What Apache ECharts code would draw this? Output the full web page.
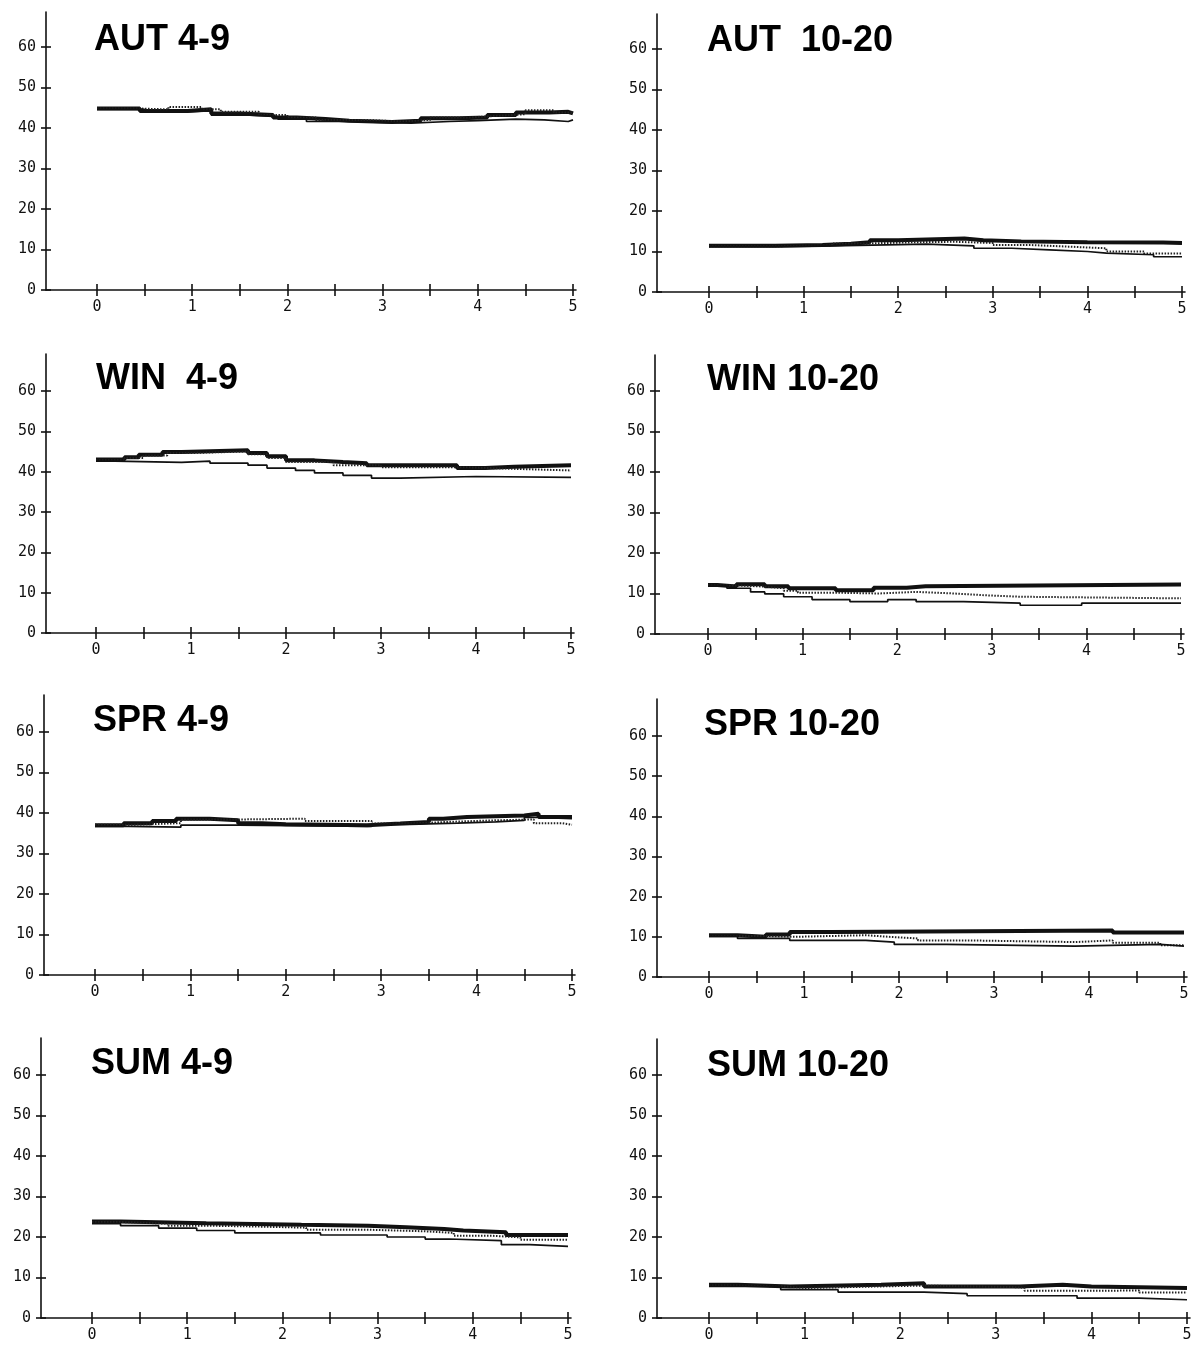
<!DOCTYPE html>
<html>
<head>
<meta charset="utf-8">
<script src="https://cdn.jsdelivr.net/npm/echarts@6/dist/echarts.min.js"></script>
<style>
  html, body { margin: 0; padding: 0; background: #fff; }
  #chart { width: 1198px; height: 1356px; }
</style>
</head>
<body>
<div id="chart"></div>
<script>
// Panel titles (season, size class)
const panelTitles = ['AUT 4-9', 'AUT  10-20', 'WIN  4-9', 'WIN 10-20', 'SPR 4-9', 'SPR 10-20', 'SUM 4-9', 'SUM 10-20'];

// Axis ticks and labels
const yTickValues = [0, 10, 20, 30, 40, 50, 60];
const xLabelValues = [0, 1, 2, 3, 4, 5];
const xTickValues = [0, 0.5, 1, 1.5, 2, 2.5, 3, 3.5, 4, 4.5, 5];

// Step curves: [x where the level changes, level]
const aut49Thick  = [[0,44.8],[0.45,44.2],[0.95,44.6],[1.2,43.6],[1.5,43.2],[1.85,42.6],[2.1,42.2],[2.4,41.8],[2.65,41.5],[3.1,41.8],[3.4,42.4],[3.8,42.6],[4.1,43.2],[4.4,43.8],[4.75,44.0],[4.95,43.6]];
const aut49Dotted = [[0,44.8],[0.45,44.6],[0.75,45.2],[1.1,44.6],[1.3,44.0],[1.7,43.2],[2.0,42.6],[2.3,42.0],[2.8,41.6],[3.2,42.0],[3.5,42.6],[3.9,43.0],[4.2,43.4],[4.5,44.4],[4.8,43.8]];
const aut49Thin   = [[0,44.6],[0.5,44.0],[0.9,44.2],[1.2,43.2],[1.6,42.8],[1.9,42.2],[2.2,41.6],[2.6,41.2],[3.3,41.6],[3.7,41.8],[4.0,42.2],[4.4,42.0],[4.7,41.6],[4.95,42.0]];

const aut1020Thick  = [[0,11.4],[0.7,11.6],[1.2,11.9],[1.5,12.3],[1.7,12.8],[2.0,13.2],[2.7,12.8],[2.9,12.5],[3.3,12.3],[4.0,12.2],[4.8,12.1]];
const aut1020Dotted = [[0,11.3],[0.7,11.5],[1.3,12.0],[1.7,12.3],[2.2,12.4],[2.6,12.1],[3.0,11.6],[3.4,11.2],[3.8,10.8],[4.2,10.0],[4.6,9.5]];
const aut1020Thin   = [[0,11.2],[0.7,11.4],[1.3,11.8],[2.3,11.4],[2.8,10.8],[3.2,10.4],[3.6,10.0],[4.0,9.6],[4.2,9.2],[4.7,8.7]];

const win49Thick  = [[0,43.0],[0.3,43.6],[0.45,44.2],[0.7,44.9],[0.9,45.3],[1.6,44.6],[1.8,43.8],[2.0,42.8],[2.3,42.4],[2.6,42.1],[2.85,41.6],[3.8,40.9],[4.1,41.2],[4.4,41.6]];
const win49Dotted = [[0,42.8],[0.3,43.4],[0.5,44.0],[0.75,44.6],[0.95,45.0],[1.6,44.3],[1.8,43.4],[2.0,42.4],[2.5,41.6],[3.0,41.1],[3.9,40.7],[4.4,40.3]];
const win49Thin   = [[0,42.6],[0.2,42.3],[0.9,42.6],[1.2,42.1],[1.6,41.6],[1.8,40.9],[2.1,40.3],[2.3,39.7],[2.6,39.1],[2.9,38.4],[3.2,38.8],[4.0,38.6]];

const win1020Thick  = [[0,12.1],[0.1,11.7],[0.3,12.3],[0.6,11.8],[0.85,11.3],[1.35,10.8],[1.75,11.4],[2.1,11.8],[2.3,12.2]];
const win1020Dotted = [[0,12.0],[0.3,11.7],[0.6,11.3],[0.8,10.7],[0.95,10.2],[1.35,10.0],[1.8,10.4],[2.2,10.0],[2.6,9.6],[2.9,9.2],[3.3,8.8]];
const win1020Thin   = [[0,11.8],[0.2,11.3],[0.45,10.4],[0.6,9.9],[0.8,9.2],[1.1,8.5],[1.5,8.0],[1.9,8.5],[2.2,8.0],[2.7,7.6],[3.3,7.1],[3.95,7.6]];

const spr49Thick  = [[0,37.0],[0.3,37.5],[0.6,38.0],[0.85,38.6],[1.2,38.2],[1.5,37.5],[1.75,37.2],[2.0,37.0],[2.85,37.4],[3.2,37.8],[3.5,38.6],[3.65,39.0],[3.9,39.4],[4.5,39.8],[4.65,39.0]];
const spr49Dotted = [[0,37.1],[0.4,37.5],[0.9,38.4],[1.5,38.6],[2.2,38.0],[2.9,37.4],[3.3,37.8],[3.7,38.2],[4.2,38.4],[4.6,37.5],[4.9,37.1]];
const spr49Thin   = [[0,36.7],[0.35,36.5],[0.9,37.0],[1.5,36.7],[2.9,37.2],[3.3,37.5],[3.8,37.8],[4.2,38.2],[4.5,38.9],[4.65,38.6]];

const spr1020Thick  = [[0,10.4],[0.3,10.0],[0.6,10.6],[0.85,11.2],[1.3,11.6],[4.25,11.1]];
const spr1020Dotted = [[0,10.2],[0.6,10.0],[0.9,10.4],[1.65,10.0],[1.9,9.6],[2.2,9.1],[2.75,8.7],[3.85,9.1],[4.25,8.5],[4.75,7.9]];
const spr1020Thin   = [[0,10.1],[0.3,9.6],[0.85,9.1],[1.65,8.7],[1.95,8.1],[2.5,7.7],[3.85,8.1],[4.75,7.7]];

const sum49Thick  = [[0,23.8],[0.3,23.4],[1.2,23.0],[2.2,22.8],[2.9,22.4],[3.3,22.0],[3.7,21.6],[3.9,21.2],[4.35,20.5]];
const sum49Dotted = [[0,23.7],[0.3,23.3],[0.8,22.8],[1.2,22.6],[1.7,22.3],[2.25,21.8],[2.9,21.4],[3.5,21.0],[3.8,20.3],[4.2,19.9],[4.5,19.3]];
const sum49Thin   = [[0,23.3],[0.3,22.8],[0.7,22.2],[1.1,21.6],[1.5,21.0],[2.4,20.5],[3.1,20.0],[3.5,19.5],[3.75,19.1],[4.3,18.1],[4.6,17.7]];

const sum1020Thick  = [[0,8.2],[0.3,7.8],[0.85,8.2],[1.8,8.6],[2.25,7.8],[3.25,8.2],[3.7,7.8],[4.0,7.4]];
const sum1020Dotted = [[0,8.0],[0.3,7.8],[0.8,7.4],[1.0,7.8],[1.8,8.0],[2.25,7.6],[3.25,7.4],[3.3,6.7],[4.0,6.8],[4.5,6.3]];
const sum1020Thin   = [[0,7.8],[0.75,7.0],[1.35,6.4],[2.25,6.0],[2.7,5.5],[3.85,4.9],[4.5,4.5]];

const panelCurves = [
  [aut49Thick, aut49Dotted, aut49Thin],
  [aut1020Thick, aut1020Dotted, aut1020Thin],
  [win49Thick, win49Dotted, win49Thin],
  [win1020Thick, win1020Dotted, win1020Thin],
  [spr49Thick, spr49Dotted, spr49Thin],
  [spr1020Thick, spr1020Dotted, spr1020Thin],
  [sum49Thick, sum49Dotted, sum49Thin],
  [sum1020Thick, sum1020Dotted, sum1020Thin]
];

// Page placement of each panel (pixels): y-axis line, x=0 and x=5 positions,
// y=0 and y=60 positions, top of the y-axis line, title anchor.
const layout = [
  { ya: 46,  x0: 97,  x5: 573,  y0: 290,  y60: 47,   top: 12,   tx: 94,  ty: 40 },
  { ya: 657, x0: 709, x5: 1182, y0: 292,  y60: 49,   top: 14,   tx: 707, ty: 41 },
  { ya: 46,  x0: 96,  x5: 571,  y0: 633,  y60: 391,  top: 354,  tx: 96,  ty: 379 },
  { ya: 655, x0: 708, x5: 1181, y0: 634,  y60: 391,  top: 355,  tx: 707, ty: 380 },
  { ya: 44,  x0: 95,  x5: 572,  y0: 975,  y60: 732,  top: 695,  tx: 93,  ty: 721 },
  { ya: 657, x0: 709, x5: 1184, y0: 977,  y60: 736,  top: 699,  tx: 704, ty: 725 },
  { ya: 41,  x0: 92,  x5: 568,  y0: 1318, y60: 1075, top: 1038, tx: 91,  ty: 1064 },
  { ya: 657, x0: 709, x5: 1187, y0: 1318, y60: 1075, top: 1039, tx: 707, ty: 1066 }
];

const INK = '#111';
const labelFont = { color: INK, fontFamily: 'DejaVu Sans Mono', fontSize: 15 };

function toSteps(points) {
  const out = points.slice();
  const last = out[out.length - 1];
  if (last[0] < 5) out.push([5, last[1]]);
  return out;
}

const grids = [], xAxes = [], yAxes = [], series = [], graphics = [];

panelTitles.forEach((title, i) => {
  const L = layout[i];
  const ux = (L.x5 - L.x0) / 5;
  const uy = (L.y0 - L.y60) / 60;
  const xMin = (L.ya - L.x0) / ux;
  const xMax = 5 + 3 / ux;
  const yMax = (L.y0 - L.top) / uy;
  const rect = { left: L.ya, top: L.top, width: L.x5 + 3 - L.ya, height: L.y0 - L.top };

  // Two overlaid grids per panel: one with outward ticks and labels,
  // one with inward ticks, so each tick mark crosses its axis line.
  let mainIndex = -1;
  [false, true].forEach(inner => {
    const gi = grids.length;
    if (!inner) mainIndex = gi;
    grids.push(Object.assign({ containLabel: false, show: false }, rect));
    xAxes.push({
      gridIndex: gi, type: 'value', min: xMin, max: xMax, position: 'bottom',
      axisLine: { show: !inner, onZero: false, lineStyle: { color: INK, width: 1.6 } },
      axisTick: { show: true, inside: inner, length: 6, customValues: xTickValues, lineStyle: { color: INK, width: 1.6 } },
      axisLabel: Object.assign({ show: !inner, customValues: xLabelValues, margin: 10,
        formatter: v => String(Math.round(v)) }, labelFont),
      splitLine: { show: false }
    });
    yAxes.push({
      gridIndex: gi, type: 'value', min: 0, max: yMax, position: 'left',
      axisLine: { show: !inner, onZero: false, lineStyle: { color: INK, width: 1.6 } },
      axisTick: { show: true, inside: inner, length: 5, customValues: yTickValues, lineStyle: { color: INK, width: 1.6 } },
      axisLabel: Object.assign({ show: !inner, customValues: yTickValues, margin: 10,
        formatter: v => String(Math.round(v)) }, labelFont),
      splitLine: { show: false }
    });
  });

  const [thick, dotted, thin] = panelCurves[i];
  const base = { type: 'line', step: 'end', xAxisIndex: mainIndex, yAxisIndex: mainIndex,
    symbol: 'none', showSymbol: false, silent: true, animation: false };
  series.push(Object.assign({}, base, { name: title + ' a', data: toSteps(thick),
    lineStyle: { color: INK, width: 4, cap: 'butt' }, z: 3 }));
  series.push(Object.assign({}, base, { name: title + ' b', data: toSteps(dotted),
    lineStyle: { color: '#222', width: 2, type: [1.5, 1.5], cap: 'butt' }, z: 4 }));
  series.push(Object.assign({}, base, { name: title + ' c', data: toSteps(thin),
    lineStyle: { color: INK, width: 1.7, cap: 'butt' }, z: 5 }));

  graphics.push({
    type: 'text', x: L.tx, y: L.ty, z: 10,
    style: { text: title, fill: '#000', font: 'bold 36px "Liberation Sans", Arial, sans-serif',
      textVerticalAlign: 'middle', textAlign: 'left' }
  });
});

const chart = echarts.init(document.getElementById('chart'), null, { renderer: 'canvas' });
chart.setOption({
  backgroundColor: '#fff',
  animation: false,
  grid: grids,
  xAxis: xAxes,
  yAxis: yAxes,
  series: series,
  graphic: graphics
});
</script>
</body>
</html>
